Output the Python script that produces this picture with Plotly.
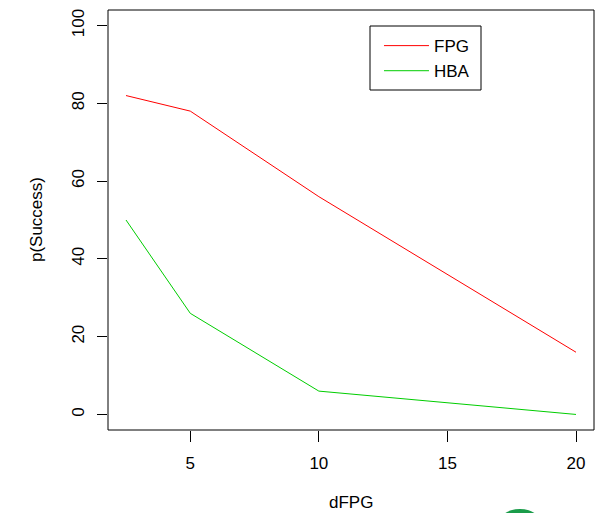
import plotly.graph_objects as go

dfpg = [2.5, 5, 10, 20]
fpg_success = [82, 78, 56, 16]
hba_success = [50, 26, 6, 0]
x_ticks = [5, 10, 15, 20]
y_ticks = [0, 20, 40, 60, 80, 100]

FONT = "Liberation Sans, Arial, Helvetica, sans-serif"
FS = 17

fig = go.Figure()
fig.add_trace(go.Scatter(x=dfpg, y=fpg_success, mode="lines", name="FPG",
                         line=dict(color="#FF0000", width=1)))
fig.add_trace(go.Scatter(x=dfpg, y=hba_success, mode="lines", name="HBA",
                         line=dict(color="#00CD00", width=1)))

fig.update_layout(
    width=596, height=513,
    margin=dict(l=108, r=2, t=10, b=83),
    paper_bgcolor="white", plot_bgcolor="white",
    font=dict(family=FONT, size=FS, color="black"),
    showlegend=True,
    legend=dict(x=0.5576, y=0.957, xanchor="left", yanchor="top",
                borderwidth=0, bgcolor="rgba(0,0,0,0)",
                font=dict(size=FS, family=FONT), itemwidth=45,
                tracegroupgap=0),
    xaxis=dict(range=[1.8, 20.7], tickvals=x_ticks, showgrid=False, zeroline=False,
               ticks="outside", ticklen=11, tickcolor="black", showline=False,
               ticklabelstandoff=7, tickfont=dict(size=FS)),
    yaxis=dict(range=[-4, 104], tickvals=y_ticks, showgrid=False, zeroline=False,
               ticks="outside", ticklen=10, tickcolor="black", showline=False,
               tickangle=-90, ticklabelstandoff=6, tickfont=dict(size=FS)),
    shapes=[
        dict(type="rect", xref="paper", yref="paper", x0=0, x1=1, y0=0, y1=1,
             line=dict(color="black", width=1)),
        # legend frame
        dict(type="rect", xref="paper", yref="paper",
             x0=(370 - 108) / 486, x1=(481 - 108) / 486,
             y0=(430 - 90) / 420, y1=(430 - 26) / 420,
             line=dict(color="black", width=1)),
        dict(type="circle", xref="paper", yref="paper", x0=0.800, x1=0.895,
             y0=-0.274, y1=-0.188, line=dict(width=0), fillcolor="#1a9c4a"),
    ],
    annotations=[
        dict(text="dFPG", xref="paper", yref="paper", x=0.5, y=(430 - 502) / 420,
             xanchor="center", yanchor="middle", showarrow=False,
             font=dict(size=FS, family=FONT)),
        dict(text="p(Success)", xref="paper", yref="paper", x=-0.148, y=0.5,
             xanchor="center", yanchor="middle", textangle=-90, showarrow=False,
             font=dict(size=FS, family=FONT)),
    ],
)

fig.write_html("out.html", config={"displayModeBar": False},
               post_script="document.body.style.margin='0';")
